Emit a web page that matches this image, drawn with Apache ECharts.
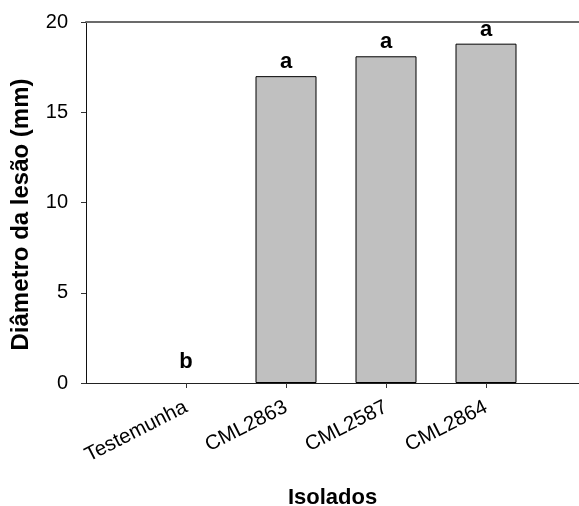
<!DOCTYPE html>
<html>
<head>
<meta charset="utf-8">
<script src="https://cdn.jsdelivr.net/npm/echarts@6/dist/echarts.min.js"></script>
<style>
html,body{margin:0;padding:0;background:#fff;}
#chart{width:579px;height:506px;}
</style>
</head>
<body>
<div id="chart"></div>
<script>
// Data
var categories = ['Testemunha', 'CML2863', 'CML2587', 'CML2864'];
var values = [0, 17.0, 18.1, 18.8];
var letters = ['b', 'a', 'a', 'a'];
var yTicks = [0, 5, 10, 15, 20];

var FONT = '"Liberation Sans", Arial, sans-serif';
var positions = categories.map(function (c, i) { return i + 1; });

var barData = values.map(function (v, i) {
  return {
    value: [positions[i], v],
    itemStyle: v === 0 ? { borderWidth: 0, color: 'rgba(0,0,0,0)' } : {},
    label: { distance: v === 0 ? 10 : 3 }
  };
});

var chart = echarts.init(document.getElementById('chart'), null, { renderer: 'canvas' });
chart.setOption({
  animation: false,
  backgroundColor: '#fff',
  grid: { left: 86, top: 22, right: 0, bottom: 123, containLabel: false, outerBoundsMode: 'none' },
  xAxis: [{
    type: 'value',
    min: 0,
    max: 4.93,
    interval: 1,
    name: 'Isolados',
    nameLocation: 'middle',
    nameGap: 104,
    nameTextStyle: { fontFamily: FONT, fontSize: 22, fontWeight: 'bold', color: '#000' },
    axisLine: { show: true, onZero: false, lineStyle: { color: '#222', width: 1 } },
    axisTick: { show: true, length: 5, customValues: positions, lineStyle: { color: '#333' } },
    axisLabel: {
      customValues: positions,
      rotate: 27,
      margin: 23,
      fontFamily: FONT,
      fontSize: 20.5,
      color: '#000',
      formatter: function (v) {
        var idx = positions.indexOf(Math.round(v));
        return idx >= 0 ? categories[idx] : '';
      }
    },
    splitLine: { show: false }
  }, {
    type: 'value',
    position: 'top',
    min: 0,
    max: 4.93,
    axisLine: { show: true, onZero: false, lineStyle: { color: '#6b6b6b', width: 2 } },
    axisTick: { show: false },
    axisLabel: { show: false },
    splitLine: { show: false }
  }],
  yAxis: {
    type: 'value',
    min: yTicks[0],
    max: yTicks[yTicks.length - 1],
    interval: yTicks[1] - yTicks[0],
    name: 'Diâmetro da lesão (mm)',
    nameLocation: 'middle',
    nameGap: 53,
    nameTextStyle: { fontFamily: FONT, fontSize: 24, fontWeight: 'bold', color: '#000', padding: [0, 24, 0, 0] },
    axisLine: { show: true, lineStyle: { color: '#111', width: 1 } },
    axisTick: { show: true, length: 5, lineStyle: { color: '#333' } },
    axisLabel: { margin: 18, fontFamily: FONT, fontSize: 20, color: '#000' },
    splitLine: { show: false }
  },
  series: [{
    type: 'bar',
    xAxisIndex: 0,
    data: barData,
    barWidth: 61,
    itemStyle: { color: '#c0c0c0', borderColor: '#000', borderWidth: 1 },
    label: {
      show: true,
      position: 'top',
      fontFamily: FONT,
      fontSize: 22,
      fontWeight: 'bold',
      color: '#000',
      formatter: function (p) { return letters[p.dataIndex]; }
    }
  }]
});
</script>
</body>
</html>
